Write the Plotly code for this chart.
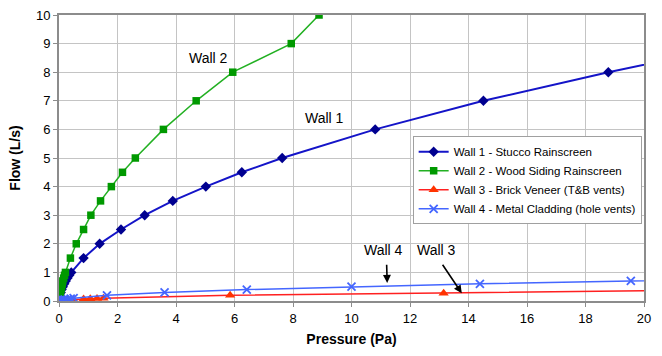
import plotly.graph_objects as go

# ---- data ----
wall1_p = [0.01, 0.03, 0.06, 0.09, 0.13, 0.18, 0.23, 0.29, 0.35, 0.42, 0.84, 1.39, 2.12, 2.93, 3.89, 5.02, 6.25, 7.63, 10.81, 14.51, 18.78, 21.1]
wall1_q = [0.1, 0.2, 0.3, 0.4, 0.5, 0.6, 0.7, 0.8, 0.9, 1.0, 1.5, 2.0, 2.5, 3.0, 3.5, 4.0, 4.5, 5.0, 6.0, 7.0, 8.0, 8.5]

wall2_p = [0.01, 0.03, 0.05, 0.07, 0.09, 0.11, 0.13, 0.16, 0.19, 0.22, 0.39, 0.59, 0.84, 1.09, 1.42, 1.79, 2.17, 2.61, 3.57, 4.69, 5.94, 7.94, 8.89]
wall2_q = [0.1, 0.2, 0.3, 0.4, 0.5, 0.6, 0.7, 0.8, 0.9, 1.0, 1.5, 2.0, 2.5, 3.0, 3.5, 4.0, 4.5, 5.0, 6.0, 7.0, 8.0, 9.0, 10.0]

wall3_p = [0.05, 0.15, 0.3, 0.49, 0.84, 1.07, 1.30, 1.52, 5.85, 13.15, 24.0]
wall3_q = [0.01, 0.02, 0.03, 0.05, 0.07, 0.08, 0.09, 0.1, 0.2, 0.27, 0.4]

wall4_p = [0.02, 0.05, 0.1, 0.15, 0.2, 0.3, 0.4, 0.5, 1.64, 3.61, 6.42, 10.0, 14.39, 19.55, 26.0]
wall4_q = [0.01, 0.02, 0.03, 0.04, 0.05, 0.06, 0.08, 0.1, 0.2, 0.3, 0.4, 0.5, 0.6, 0.7, 0.8]

names = ["Wall 1 - Stucco Rainscreen", "Wall 2 - Wood Siding Rainscreen",
         "Wall 3 - Brick Veneer (T&B vents)", "Wall 4 - Metal Cladding (hole vents)"]

x_ticks = [0, 2, 4, 6, 8, 10, 12, 14, 16, 18, 20]
y_ticks = [0, 1, 2, 3, 4, 5, 6, 7, 8, 9, 10]

FONT = "Liberation Sans, Arial, sans-serif"

fig = go.Figure()
fig.add_trace(go.Scatter(x=wall1_p, y=wall1_q, name=names[0], mode="lines+markers",
                         line=dict(color="#1414C8", width=2),
                         marker=dict(symbol="diamond", size=8, color="#000090")))
fig.add_trace(go.Scatter(x=wall2_p, y=wall2_q, name=names[1], mode="lines+markers",
                         line=dict(color="#22B022", width=1.5),
                         marker=dict(symbol="square", size=7.5, color="#009900")))
fig.add_trace(go.Scatter(x=wall3_p, y=wall3_q, name=names[2], mode="lines+markers",
                         line=dict(color="#FF2020", width=1.5),
                         marker=dict(symbol="triangle-up", size=9, color="#FF3300")))
fig.add_trace(go.Scatter(x=wall4_p, y=wall4_q, name=names[3], mode="lines+markers",
                         line=dict(color="#4466FF", width=1.5),
                         marker=dict(symbol="x-thin", size=8, color="#4466FF",
                                     line=dict(color="#4466FF", width=1.8))))

# text labels
labels = [("Wall 2", 5.1, 8.51), ("Wall 1", 9.06, 6.41), ("Wall 4", 11.08, 1.77), ("Wall 3", 12.92, 1.77)]
for t, lx, ly in labels:
    fig.add_annotation(x=lx, y=ly, text=t, showarrow=False,
                       font=dict(family=FONT, size=14, color="black"))

# arrows (tip x, tip y, tail x, tail y)
arrows = [(11.22, 0.63, 11.2, 1.32), (13.77, 0.27, 13.08, 1.32)]
for tx, ty, sx, sy in arrows:
    fig.add_annotation(x=tx, y=ty, ax=sx, ay=sy, axref="x", ayref="y", text="",
                       showarrow=True, arrowhead=2, arrowsize=1, arrowwidth=1.6,
                       arrowcolor="black", standoff=0)

axis_common = dict(showline=True, linecolor="#8c8c8c", linewidth=2, mirror=True,
                   showgrid=True, gridcolor="#c4c4c4", gridwidth=1, zeroline=False,
                   ticks="outside", ticklen=4, tickcolor="#8c8c8c", automargin=False,
                   tickfont=dict(family=FONT, size=13, color="black"))

fig.update_xaxes(range=[0, 20], tickvals=x_ticks, ticktext=[str(v) for v in x_ticks],
                 title=dict(text="<b>Pressure (Pa)</b>", font=dict(family=FONT, size=14, color="black"),
                            standoff=10),
                 **axis_common)
fig.update_yaxes(range=[0, 10], tickvals=y_ticks, ticktext=[str(v) for v in y_ticks],
                 title=dict(text="<b>Flow (L/s)</b>", font=dict(family=FONT, size=14, color="black"),
                            standoff=12),
                 **axis_common)

fig.update_layout(
    width=662, height=356,
    margin=dict(l=59, r=18, t=15, b=55, autoexpand=False),
    paper_bgcolor="white", plot_bgcolor="white",
    font=dict(family=FONT, color="black"),
    showlegend=True,
    legend=dict(x=0.996, xanchor="right", y=0.576, yanchor="top",
                bgcolor="white", bordercolor="#a0a0a0", borderwidth=1,
                font=dict(family=FONT, size=11.5, color="black"),
                tracegroupgap=0),
)

# remove the default 8px page margin so the figure fills the window exactly
fig.write_html("out.html", config={"displayModeBar": False},
               post_script="document.body.style.margin='0';")
